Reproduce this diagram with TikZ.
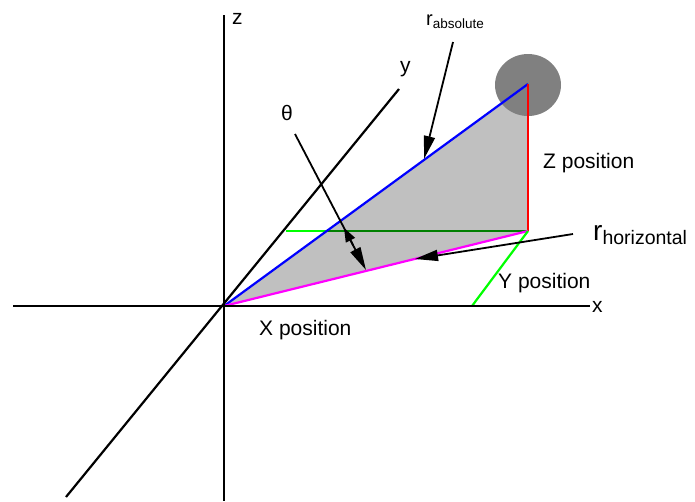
\documentclass[tikz,border=0pt]{standalone}
\usepackage{fontspec}
\setmainfont{Liberation Sans}
\usetikzlibrary{arrows.meta,calc}
\definecolor{limegreen}{RGB}{0,255,0}
\definecolor{dkgreen}{RGB}{0,128,0}
\definecolor{trigray}{RGB}{192,192,192}
\definecolor{ballgray}{RGB}{128,128,128}
\definecolor{mag}{RGB}{255,0,255}
\definecolor{bl}{RGB}{0,0,255}
\definecolor{rd}{RGB}{255,0,0}
\begin{document}
\begin{tikzpicture}[x=1pt,y=-1pt,
  axis/.style={line width=2.2pt,black},
  cline/.style={line width=2.2pt},
  lbl/.style={anchor=base west,inner sep=0pt,font=\fontsize{21}{24}\selectfont},
  ptr/.style={line width=1.8pt,-{Triangle[length=23pt,width=11pt]}},
  ptrsmall/.style={line width=1.8pt,-{Triangle[length=14pt,width=10pt]}}]
\useasboundingbox (0,0) rectangle (695,501);
% coordinates
\coordinate (O) at (224,306);
\coordinate (ztop) at (224,15);
\coordinate (zbot) at (224,501);
\coordinate (xl) at (13,306);
\coordinate (xr) at (590,306);
\coordinate (yb) at (66,497);
\coordinate (yt) at (399,89);
\coordinate (P) at (528,84);
\coordinate (Q) at (528,231);
\coordinate (G1) at (286,231);
\coordinate (Gi) at (326.7,231);
\coordinate (Yx) at (472,306);
\coordinate (T0) at (295,134);
\coordinate (T1) at (366,270);
\coordinate (A0) at (453,42);
\coordinate (A1) at (424,159);
\coordinate (H0) at (573,234);
\coordinate (H1) at (415,259);
% shaded triangle
\fill[fill=trigray] (O) -- (P) -- (Q) -- cycle;
% green horizontal line
\draw[cline,draw=limegreen] (G1) -- (Gi);
\draw[cline,draw=dkgreen] (Gi) -- (Q);
% sphere
\fill[fill=ballgray] (528,85) ellipse [x radius=33, y radius=31];
% coloured lines
\draw[cline,draw=bl] (O) -- (P);
\draw[cline,draw=rd] (P) -- (Q);
\draw[cline,draw=mag] (O) -- (Q);
\draw[cline,draw=limegreen] (Q) -- (Yx);
% axes
\draw[axis] (ztop) -- (zbot);
\draw[axis] (xl) -- (xr);
\draw[axis] (yb) -- (yt);
% pointers
\draw[ptr] (T0) -- (T1);
\draw[ptrsmall] ($(T0)!0.82!(T1)$) -- ($(T0)!0.69!(T1)$);
\draw[ptr] (A0) -- (A1);
\draw[ptr] (H0) -- (H1);
% labels
\node[lbl] (zl) at (232,24) {z};
\node[lbl] (yl) at (400,72) {y};
\node[lbl] (xlb) at (592,312) {x};
\node[lbl] (th) at (281,120) {θ};
\node[lbl] (zp) at (543,168) {Z position};
\node[lbl] (yp) at (498,288) {Y position};
\node[lbl] (xp) at (259,335) {X position};
\node[anchor=base west,inner sep=0pt] (ra) at (426,25)
  {\fontsize{20}{24}\selectfont r\raisebox{-3pt}{\fontsize{13.5}{16}\selectfont absolute}};
\node[anchor=base west,inner sep=0pt] (rh) at (593,240)
  {\fontsize{28}{32}\selectfont r\raisebox{-4pt}{\fontsize{19.5}{22}\selectfont horizontal}};
\end{tikzpicture}
\end{document}
